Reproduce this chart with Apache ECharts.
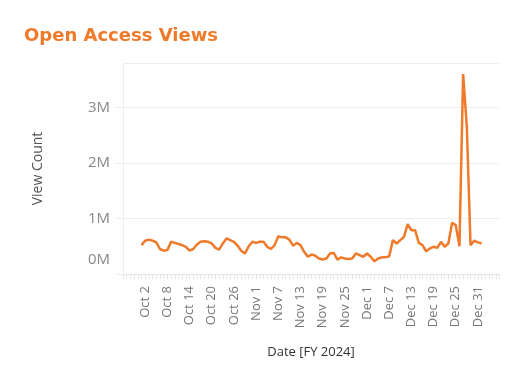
<!DOCTYPE html>
<html>
<head>
<meta charset="utf-8">
<script src="https://cdn.jsdelivr.net/npm/echarts@6/dist/echarts.min.js"></script>
<style>
html,body{margin:0;padding:0;background:#fff;}
#c{width:512px;height:384px;}
</style>
</head>
<body>
<div id="c"></div>
<script>
// Daily views from Oct 1 (day 0) to Jan 1
const startLabelOffset = 5; // Oct 1 sits 5 days after axis start (Sep 26)
const views = [
  520000, 600000, 620000, 600000, 570000, 450000, 420000, 430000, 580000, 560000,
  540000, 520000, 490000, 420000, 450000, 530000, 580000, 590000, 580000, 550000,
  470000, 440000, 550000, 640000, 610000, 580000, 510000, 420000, 370000, 500000,
  580000, 560000, 580000, 580000, 490000, 450000, 520000, 680000, 660000, 660000,
  620000, 510000, 560000, 520000, 400000, 310000, 350000, 330000, 280000, 260000,
  280000, 370000, 380000, 260000, 300000, 280000, 270000, 280000, 370000, 340000,
  310000, 370000, 310000, 230000, 280000, 300000, 300000, 320000, 610000, 550000,
  610000, 670000, 900000, 790000, 790000, 560000, 520000, 410000, 460000, 490000,
  470000, 580000, 490000, 550000, 920000, 880000, 500000, 3600000, 2650000, 520000,
  600000, 570000, 550000
];
const tickLabels = ['Oct 2','Oct 8','Oct 14','Oct 20','Oct 26','Nov 1','Nov 7','Nov 13',
  'Nov 19','Nov 25','Dec 1','Dec 7','Dec 13','Dec 19','Dec 25','Dec 31'];
const yTicks = ['0M','1M','2M','3M'];

const points = views.map((v, i) => [i + startLabelOffset, v]);

const chart = echarts.init(document.getElementById('c'), null, {renderer: 'canvas'});
chart.setOption({
  animation: false,
  backgroundColor: '#fff',
  title: {
    text: 'Open Access Views',
    left: 19, top: 22,
    textStyle: {color: '#ee7a2a', fontSize: 18, fontWeight: 'bold', fontFamily: 'DejaVu Sans'}
  },
  grid: {left: 123, right: 13, top: 63, bottom: 110, containLabel: false},
  xAxis: {
    type: 'value',
    min: 0, max: 101.7, interval: 6,
    name: 'Date [FY 2024]',
    nameLocation: 'middle', nameGap: 72,
    nameTextStyle: {color: '#333', fontSize: 13, fontFamily: 'Open Sans'},
    axisLine: {show: true, lineStyle: {color: '#e6e6e6', width: 1}},
    axisTick: {show: true, length: 5, lineStyle: {color: '#e6e6e6'}},
    minorTick: {show: true, splitNumber: 6, length: 5, lineStyle: {color: '#e6e6e6'}},
    splitLine: {show: false},
    axisLabel: {
      rotate: 90, color: '#777', fontSize: 13, fontFamily: 'Open Sans', margin: 12,
      showMinLabel: false, showMaxLabel: false,
      formatter: function (v) {
        const k = Math.round(v / 6) - 1;
        return (k >= 0 && k < tickLabels.length && Math.abs(v - (k + 1) * 6) < 1e-6) ? tickLabels[k] : '';
      }
    }
  },
  yAxis: {
    type: 'value',
    min: 0, max: 3800000, interval: 1000000,
    name: 'View Count',
    nameLocation: 'middle', nameGap: 78,
    nameTextStyle: {color: '#555', fontSize: 14, fontFamily: 'Open Sans'},
    axisLine: {show: true, lineStyle: {color: '#eeeeee'}},
    axisTick: {show: true, length: 8, lineStyle: {color: '#eeeeee'}},
    splitLine: {show: true, lineStyle: {color: '#eeeeee', width: 1}},
    axisLabel: {
      color: '#888', fontSize: 15, fontFamily: 'Open Sans', margin: 13,
      showMaxLabel: false,
      formatter: function (v) {
        const k = Math.round(v / 1000000);
        if (Math.abs(v - k * 1000000) > 1) return '';
        if (k === 0) return '{z|' + yTicks[0] + '}';
        return yTicks[k] || '';
      },
      rich: {z: {color: '#888', fontSize: 15, fontFamily: 'Open Sans', padding: [0, 0, 28, 0]}}
    }
  },
  series: [{
    type: 'line',
    data: points,
    showSymbol: false,
    symbol: 'none',
    lineStyle: {color: '#ee7a2a', width: 2.5},
    itemStyle: {color: '#ee7a2a'}
  }]
});
</script>
</body>
</html>
